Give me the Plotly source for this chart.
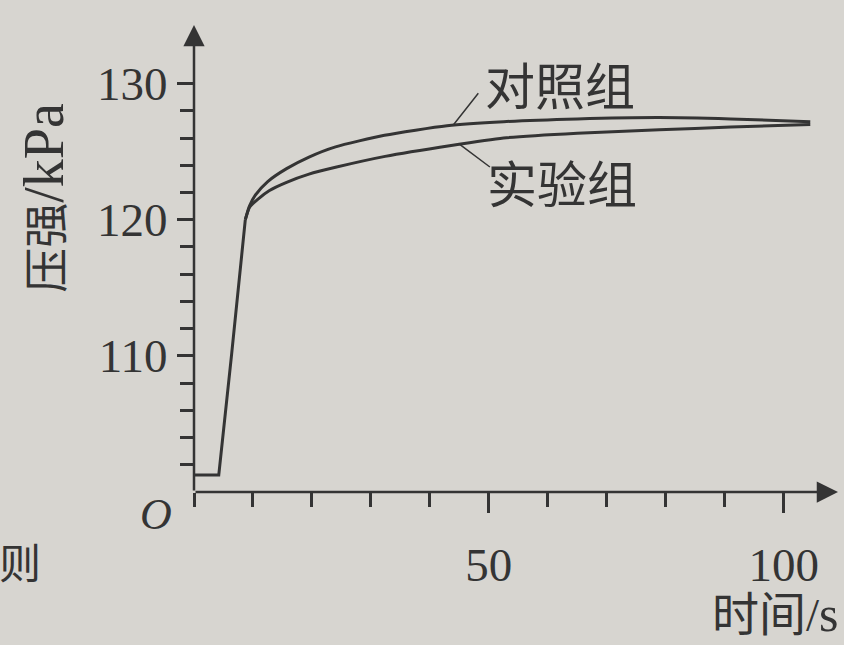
import plotly.graph_objects as go

# ---- data ----
rise_t = [0, 4.2, 6.4, 8.7]
rise_p = [101.25, 101.25, 110.2, 120.0]

ctrl_t = [8.7, 9.4, 10.4, 12.5, 15.7, 19.5, 24.0, 32.3, 42.9, 52.5, 65.0, 78.8, 91.0, 104.5]
ctrl_p = [120.0, 121.0, 121.8, 122.8, 123.75, 124.6, 125.35, 126.2, 126.9, 127.2, 127.4, 127.5, 127.4, 127.2]

exp_t = [8.7, 9.4, 10.8, 12.8, 15.7, 19.5, 24.0, 32.4, 43.6, 52.5, 65.0, 78.9, 91.0, 104.5]
exp_p = [120.0, 120.9, 121.5, 122.15, 122.75, 123.35, 123.85, 124.65, 125.45, 126.0, 126.35, 126.6, 126.8, 127.0]

series_names = ["对照组", "实验组"]
x_major = [50, 100]
x_major_labels = ["50", "100"]
y_major = [110, 120, 130]
y_major_labels = ["110", "120", "130"]
y_minor = [102, 104, 106, 108, 112, 114, 116, 118, 122, 124, 126, 128]

x_title = "时间/<span style='font-size:50px'>s</span>"
y_title = "压强<span style='font-size:56px'>/kPa</span>"

# ---- style ----
BG = "#d7d5d0"
INK = "#343434"
FONT = "Liberation Serif, Noto Sans CJK SC, serif"
XMAX, YMIN, YMAX = 109.2, 100, 134.3

fig = go.Figure()
fig.add_trace(go.Scatter(x=rise_t, y=rise_p, mode="lines", line=dict(color=INK, width=3),
                         showlegend=False, hoverinfo="skip"))
fig.add_trace(go.Scatter(x=ctrl_t, y=ctrl_p, mode="lines", name=series_names[0],
                         line=dict(color=INK, width=3, shape="spline", smoothing=0.6),
                         showlegend=False))
fig.add_trace(go.Scatter(x=exp_t, y=exp_p, mode="lines", name=series_names[1],
                         line=dict(color=INK, width=3, shape="spline", smoothing=0.6),
                         showlegend=False))

annotations = [
    # axis arrows
    dict(x=XMAX, y=YMIN, ax=0, ay=YMIN, xref="x", yref="y", axref="x", ayref="y",
         showarrow=True, arrowhead=2, arrowsize=1.7, arrowwidth=2.5, arrowcolor=INK, text=""),
    dict(x=0, y=YMAX, ax=0, ay=YMIN, xref="x", yref="y", axref="x", ayref="y",
         showarrow=True, arrowhead=2, arrowsize=1.7, arrowwidth=2.5, arrowcolor=INK, text=""),
    # origin
    dict(x=0, y=YMIN, xref="x", yref="y", text="<i>O</i>", showarrow=False,
         xanchor="right", yanchor="top", xshift=-20, yshift=4,
         font=dict(family=FONT, size=44, color=INK)),
    # leader lines
    dict(x=44, y=126.97, xref="x", yref="y", ax=26, ay=-33, text="", showarrow=True,
         arrowhead=0, arrowwidth=1.5, arrowcolor=INK),
    dict(x=45, y=125.55, xref="x", yref="y", ax=32, ay=24, text="", showarrow=True,
         arrowhead=0, arrowwidth=1.5, arrowcolor=INK),
    # series labels
    dict(x=0.448, y=0.865, xref="paper", yref="paper", text=series_names[0], showarrow=False,
         xanchor="left", yanchor="middle", font=dict(family=FONT, size=50, color=INK)),
    dict(x=0.452, y=0.655, xref="paper", yref="paper", text=series_names[1], showarrow=False,
         xanchor="left", yanchor="middle", font=dict(family=FONT, size=50, color=INK)),
    # axis titles
    dict(x=1.0, y=-0.262, xref="paper", yref="paper", text=x_title, showarrow=False,
         xanchor="right", yanchor="middle", xshift=3, font=dict(family=FONT, size=47, color=INK)),
    dict(x=-0.233, y=0.63, xref="paper", yref="paper", text=y_title, showarrow=False,
         textangle=-90, xanchor="center", yanchor="middle",
         font=dict(family=FONT, size=45, color=INK)),
    # stray page text at the left edge
    dict(x=-0.27, y=-0.157, xref="paper", yref="paper", text="则", showarrow=False,
         xanchor="center", yanchor="middle", font=dict(family=FONT, size=42, color=INK)),
]

fig.update_layout(
    width=844, height=645,
    margin=dict(l=194, r=6, t=25, b=153),
    paper_bgcolor=BG, plot_bgcolor=BG,
    font=dict(family=FONT, color=INK, size=46),
    annotations=annotations,
    xaxis=dict(range=[0, XMAX], showgrid=False, zeroline=False, showline=False,
               tickmode="array", tickvals=x_major, ticktext=x_major_labels,
               ticks="outside", ticklen=20, tickwidth=2.5, tickcolor=INK,
               ticklabelstandoff=12,
               minor=dict(dtick=10, tick0=0, ticks="outside", ticklen=14, tickwidth=2.5,
                          tickcolor=INK, showgrid=False),
               tickfont=dict(family=FONT, size=47, color=INK)),
    yaxis=dict(range=[YMIN, YMAX], showgrid=False, zeroline=False, showline=False,
               tickmode="array", tickvals=y_major, ticktext=y_major_labels,
               ticks="outside", ticklen=16, tickwidth=2.5, tickcolor=INK,
               ticklabelstandoff=0,
               minor=dict(tickmode="array", tickvals=y_minor, ticks="outside", ticklen=13,
                          tickwidth=2.5, tickcolor=INK, showgrid=False),
               tickfont=dict(family=FONT, size=47, color=INK)),
)

fig.write_html("out.html", config={"displayModeBar": False},
               post_script="document.body.style.margin='0';")
